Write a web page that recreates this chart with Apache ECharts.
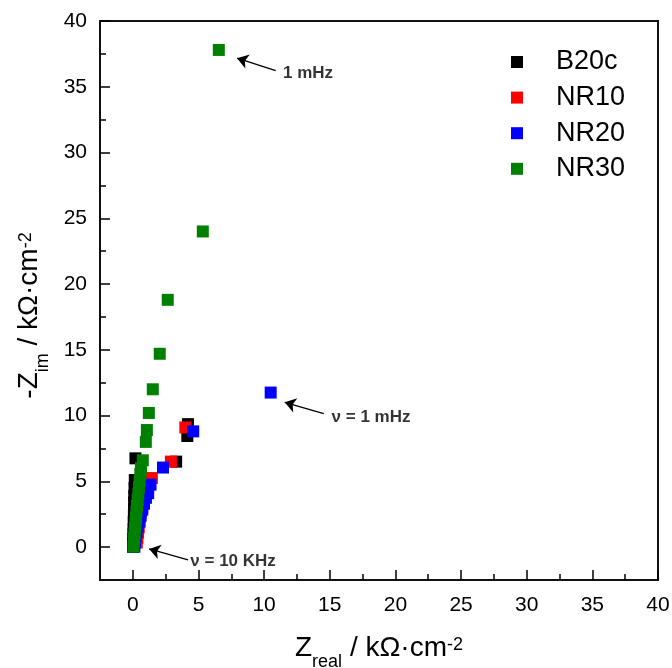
<!DOCTYPE html>
<html><head><meta charset="utf-8">
<script src="https://cdn.jsdelivr.net/npm/echarts@6/dist/echarts.min.js"></script>
<style>html,body{margin:0;padding:0;background:#fff}#c{width:672px;height:668px}</style>
</head><body><div id="c"></div>
<script>
// ---- data (kΩ·cm²) ----
const seriesNames = ['B20c', 'NR10', 'NR20', 'NR30'];
const b20c = [[0.02,0.02],[0.03,0.3],[0.04,0.6],[0.05,1.0],[0.06,1.4],[0.07,1.9],[0.08,2.4],[0.09,2.9],[0.1,3.4],[0.11,3.9],[0.13,4.5],[0.15,5.1],[0.2,6.75],[3.3,6.5],[4.15,8.45],[4.2,9.35]];
const nr10 = [[0.3,0.35],[0.35,0.7],[0.4,1.1],[0.45,1.5],[0.5,1.9],[0.55,2.3],[0.62,2.7],[0.72,3.1],[0.82,3.6],[0.97,4.1],[1.15,4.6],[1.45,5.25],[2.9,6.5],[4.0,9.1]];
const nr20 = [[0.12,0.03],[0.15,0.35],[0.2,0.75],[0.28,1.15],[0.38,1.55],[0.5,1.95],[0.6,2.4],[0.72,2.85],[0.85,3.3],[1.0,3.75],[1.17,4.1],[1.35,4.75],[2.3,6.05],[4.6,8.8],[10.5,11.75]];
const nr30 = [[0.05,0.03],[0.07,0.35],[0.1,0.7],[0.13,1.05],[0.16,1.45],[0.2,1.85],[0.24,2.25],[0.28,2.7],[0.32,3.15],[0.37,3.6],[0.42,4.05],[0.47,4.55],[0.52,5.05],[0.57,5.55],[0.62,6.0],[0.76,6.6],[0.99,8.0],[1.07,8.9],[1.22,10.2],[1.52,12.0],[2.05,14.7],[2.66,18.8],[5.33,24.0],[6.55,37.8]];
const majorTicks = [0,5,10,15,20,25,30,35,40];
const minorTicks = [2.5,7.5,12.5,17.5,22.5,27.5,32.5,37.5];
// annotations (data coordinates)
const noteTexts = ['1 mHz', 'ν = 1 mHz', 'ν = 10 KHz'];
const noteAt = [[11.4,36.06],[15.1,9.87],[4.34,-1.08]];
const arrowTail = [[10.88,36.23],[14.54,10.15],[4.21,-0.97]];
const arrowHead = [[7.94,37.17],[11.57,11.01],[1.24,-0.14]];

const colors = ['#000000', '#ff0000', '#0000ff', '#008000'];
const F = 'Arial, "Liberation Sans", sans-serif';
const rich = {
  a: {fontSize: 28, lineHeight: 30, verticalAlign: 'top', fontFamily: F, color: '#000'},
  sub: {fontSize: 18, lineHeight: 18, padding: [19,0,0,0], verticalAlign: 'top', fontFamily: F, color: '#000'},
  sup: {fontSize: 18, lineHeight: 18, padding: [2,0,0,0], verticalAlign: 'top', fontFamily: F, color: '#000'}
};

function mainAxis(isX) {
  return {
    type: 'value', min: -2.5, max: 40, interval: 2.5,
    position: isX ? 'bottom' : 'left',
    name: isX ? '{a|Z}{sub|real}{a| / kΩ·cm}{sup|-2}' : '{a|-Z}{sub|im}{a| / kΩ·cm}{sup|-2}',
    nameLocation: 'middle',
    nameGap: isX ? 54 : 55,
    nameTextStyle: {rich: rich, padding: isX ? 0 : [0, 30, 0, 0]},
    axisLine: {show: false, onZero: false},
    splitLine: {show: false},
    axisTick: {show: true, inside: true, length: 10, customValues: majorTicks, lineStyle: {color: '#000', width: 1.5}},
    axisLabel: {show: true, customValues: majorTicks, fontSize: 21, fontFamily: F, color: '#000', margin: isX ? 15 : 13},
    z: 5
  };
}
function minorAxis(isX) {
  return {
    type: 'value', min: -2.5, max: 40, interval: 2.5,
    position: isX ? 'bottom' : 'left',
    axisLine: {show: false, onZero: false},
    splitLine: {show: false},
    axisTick: {show: true, inside: true, length: 6, customValues: minorTicks, lineStyle: {color: '#000', width: 1.5}},
    axisLabel: {show: false}
  };
}

const scatterSeries = [b20c, nr10, nr20, nr30].map((d, i) => ({
  name: seriesNames[i], type: 'scatter', data: d,
  symbol: 'rect', symbolSize: 12,
  itemStyle: {color: colors[i], opacity: 1},
  xAxisIndex: 0, yAxisIndex: 0, z: 2 + i
}));

const arrowSeries = {
  type: 'scatter', name: 'arrows', data: [], xAxisIndex: 0, yAxisIndex: 0, silent: true,
  markLine: {
    silent: true, animation: false,
    symbol: ['none', 'arrow'], symbolSize: 11,
    itemStyle: {color: '#000'},
    lineStyle: {color: '#000', width: 1.3, type: 'solid', opacity: 1},
    label: {show: false},
    data: arrowTail.map((t, i) => [{coord: t}, {coord: arrowHead[i]}])
  }
};
const noteSeries = {
  type: 'scatter', name: 'notes', xAxisIndex: 0, yAxisIndex: 0, silent: true,
  data: noteAt.map((p, i) => [p[0], p[1], noteTexts[i]]),
  symbolSize: 1, itemStyle: {color: 'rgba(0,0,0,0)'},
  label: {show: true, position: 'right', distance: 0, formatter: p => p.value[2],
    fontSize: 17, fontWeight: 'bold', fontFamily: F, color: '#000'},
  z: 10
};

const chart = echarts.init(document.getElementById('c'), null, {renderer: 'canvas'});
chart.setOption({
  animation: false,
  backgroundColor: '#fff',
  grid: {left: 100, right: 14, top: 21, bottom: 88, show: true, borderColor: '#111', borderWidth: 2,
    backgroundColor: 'transparent', containLabel: false, outerBoundsMode: 'none'},
  legend: {
    data: seriesNames, orient: 'vertical', left: 506, top: 43,
    icon: 'rect', itemWidth: 12, itemHeight: 12, itemGap: 7.6,
    textStyle: {fontSize: 27, lineHeight: 28, fontFamily: F, color: '#000', padding: [0,0,0,28]}
  },
  xAxis: [mainAxis(true), minorAxis(true)],
  yAxis: [mainAxis(false), minorAxis(false)],
  series: scatterSeries.concat([arrowSeries, noteSeries])
});
</script></body></html>
